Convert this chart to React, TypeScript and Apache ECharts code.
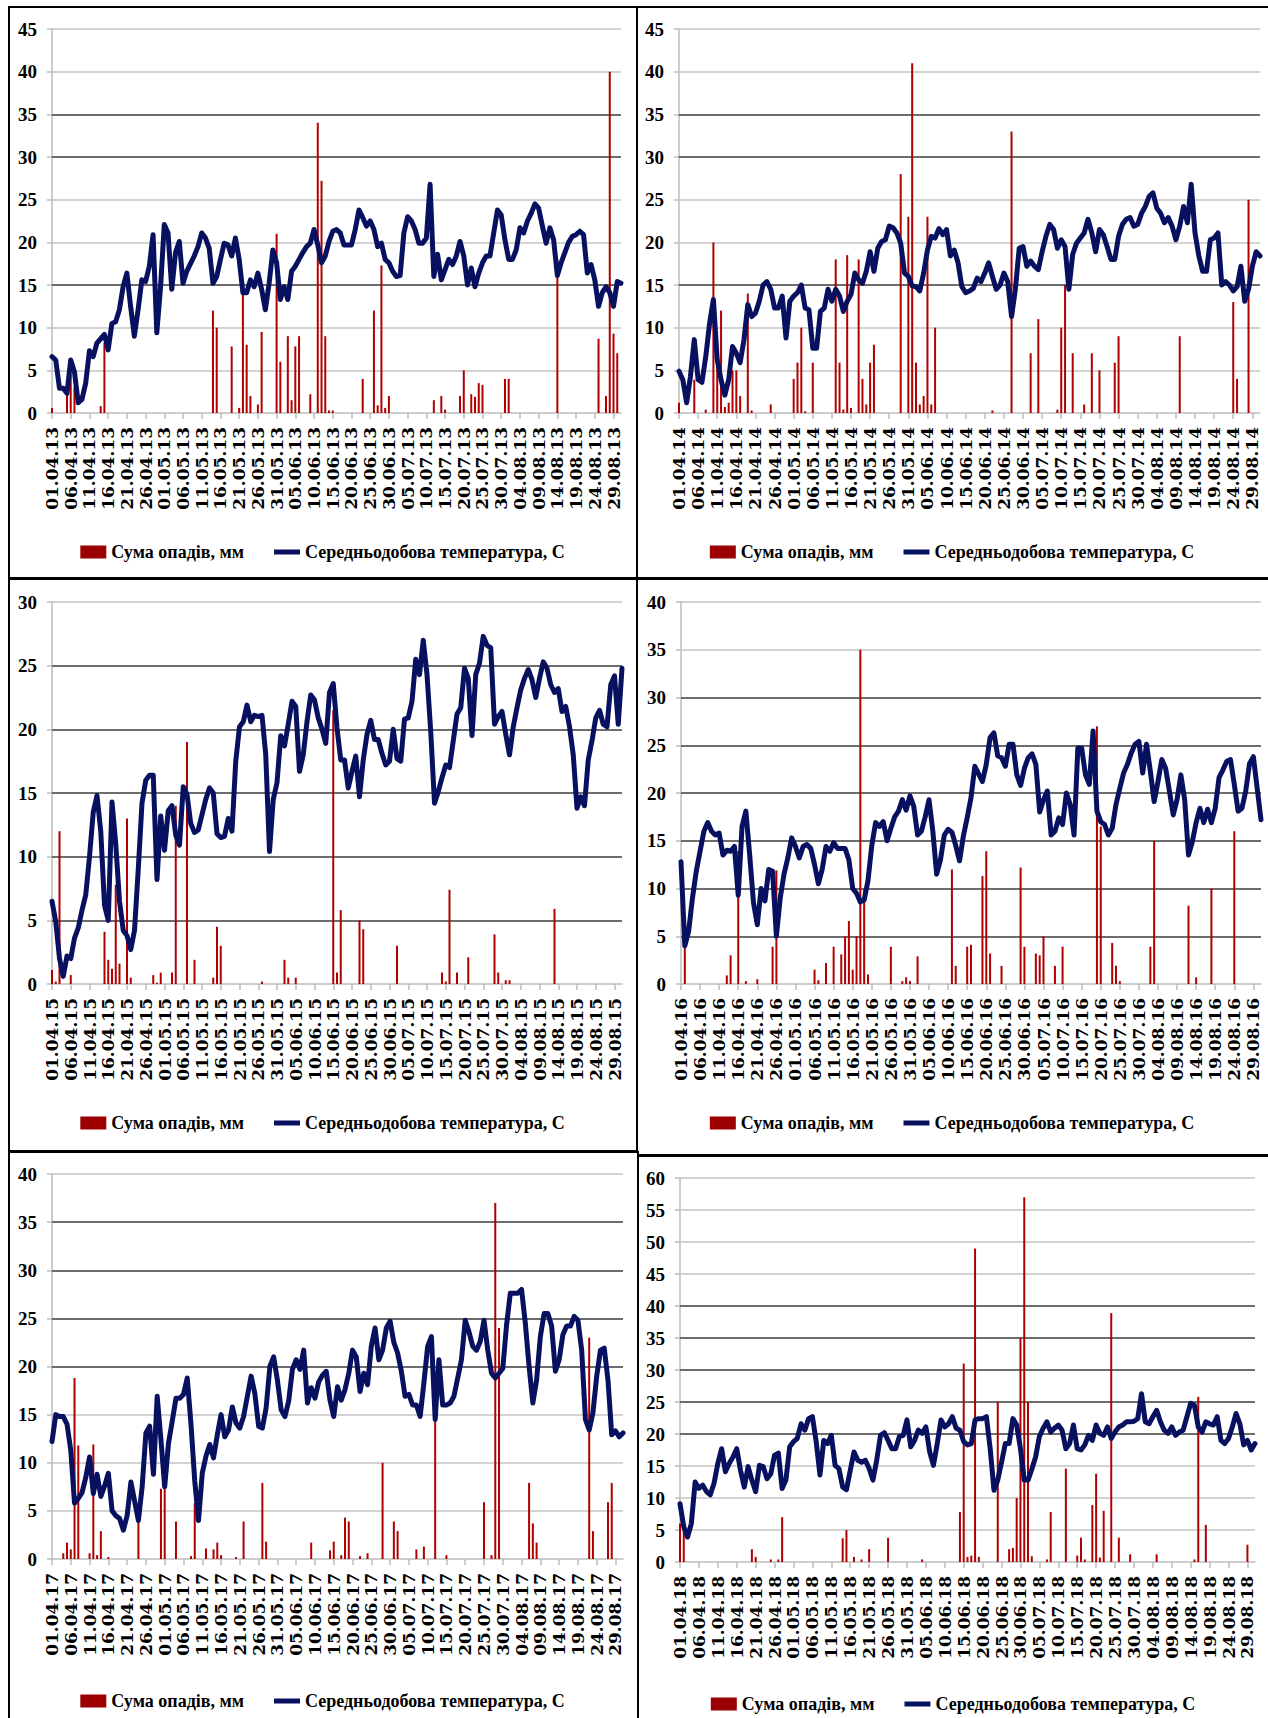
import React, { useEffect, useRef } from 'react';
import * as echarts from 'echarts';

// ---------- categories ----------
const MONTHS: [string, number][] = [['04', 30], ['05', 31], ['06', 30], ['07', 31], ['08', 31]];
function seasonDates(yy: string): string[] {
  const out: string[] = [];
  for (const [m, n] of MONTHS) for (let d = 1; d <= n; d++) out.push(`${String(d).padStart(2, '0')}.${m}.${yy}`);
  return out;
}

const RAIN_NAME = 'Сума опадів, мм';
const TEMP_NAME = 'Середньодобова температура, С';

// ---------- temperature (°C), 01.04 .. 31.08 ----------
const TEMP_2013 = [
  6.6, 6.2, 2.9, 2.9, 2.3, 6.2, 4.8, 1.2, 1.6, 3.5,
  7.3, 6.6, 8.2, 8.7, 9.2, 7.4, 10.5, 10.7, 12.1, 14.8,
  16.4, 12.5, 9.0, 12.1, 15.6, 15.4, 17.2, 20.9, 9.4, 14.8,
  22.1, 21.1, 14.5, 18.8, 20.1, 15.2, 16.6, 17.5, 18.4, 19.5,
  21.1, 20.5, 19.3, 15.2, 16.0, 18.0, 19.9, 19.7, 18.4, 20.5,
  18.0, 14.1, 14.1, 15.6, 14.8, 16.4, 14.5, 12.1, 15.2, 19.1,
  17.6, 13.3, 14.8, 13.3, 16.6, 17.2, 18.0, 18.8, 19.5, 19.9,
  21.5, 19.7, 17.6, 18.4, 20.1, 21.3, 21.5, 21.1, 19.7, 19.7,
  19.7, 21.5, 23.8, 22.9, 21.9, 22.5, 21.5, 19.5, 19.9, 18.0,
  17.6, 16.6, 16.0, 16.1, 21.1, 23.0, 22.5, 21.5, 19.9, 19.9,
  20.5, 26.8, 16.0, 18.6, 15.6, 16.8, 18.0, 17.4, 18.4, 20.1,
  18.4, 15.0, 17.0, 14.8, 16.4, 17.6, 18.4, 18.4, 21.1, 23.8,
  23.2, 20.3, 18.0, 18.0, 19.1, 21.7, 21.1, 22.5, 23.4, 24.5,
  24.0, 21.9, 19.9, 21.7, 20.3, 16.1, 17.6, 18.8, 20.0, 20.7,
  20.9, 21.3, 20.9, 16.4, 17.4, 15.6, 12.5, 14.1, 14.8, 14.1,
  12.5, 15.4, 15.2,
];
const TEMP_2014 = [
  4.9, 3.9, 1.2, 4.3, 8.6, 3.9, 3.6, 6.6, 10.5, 13.3,
  6.2, 3.9, 2.1, 3.9, 7.8, 7.0, 5.9, 8.6, 12.7, 11.3,
  11.7, 13.1, 15.0, 15.4, 14.5, 12.3, 12.3, 13.7, 8.8, 13.1,
  13.7, 14.1, 15.0, 12.3, 12.1, 7.6, 7.6, 11.9, 12.3, 14.5,
  13.1, 14.5, 13.7, 11.9, 13.1, 13.9, 16.4, 15.6, 15.2, 16.6,
  18.9, 16.6, 19.3, 20.1, 20.3, 21.9, 21.7, 21.1, 19.9, 16.4,
  16.0, 14.9, 14.8, 14.3, 16.4, 19.1, 20.7, 20.5, 21.6, 20.9,
  21.5, 18.4, 19.1, 17.6, 14.8, 14.1, 14.3, 14.6, 15.8, 15.4,
  16.4, 17.6, 16.0, 14.5, 15.0, 16.4, 15.4, 11.3, 14.5, 19.3,
  19.5, 17.2, 17.8, 17.2, 16.8, 18.9, 20.7, 22.1, 21.5, 19.3,
  20.3, 19.5, 14.5, 18.6, 19.9, 20.5, 21.1, 22.7, 21.1, 18.9,
  21.5, 20.9, 19.5, 18.0, 18.0, 20.7, 22.1, 22.7, 22.9, 21.9,
  22.1, 23.4, 24.2, 25.4, 25.8, 24.0, 23.4, 22.3, 22.9, 21.9,
  20.3, 21.9, 24.2, 22.3, 26.8, 21.1, 18.4, 16.6, 16.6, 20.3,
  20.5, 21.1, 15.0, 15.4, 15.0, 14.3, 14.8, 17.2, 13.1, 14.5,
  17.2, 18.9, 18.4,
];
const TEMP_2015 = [
  6.5, 4.9, 2.0, 0.6, 2.2, 2.0, 3.6, 4.4, 5.8, 7.0,
  10.0, 13.5, 14.8, 12.0, 6.2, 5.0, 14.3, 11.0, 6.5, 4.2,
  3.8, 2.7, 4.2, 9.0, 14.2, 16.0, 16.4, 16.4, 8.2, 13.2,
  10.5, 13.6, 14.0, 11.7, 10.9, 15.5, 14.9, 12.6, 11.9, 12.1,
  13.3, 14.5, 15.4, 15.0, 11.8, 11.5, 11.6, 13.0, 12.0, 17.5,
  20.2, 20.6, 21.9, 20.6, 21.1, 21.0, 21.1, 18.0, 10.4, 14.5,
  15.8, 19.5, 18.7, 20.4, 22.2, 21.8, 16.7, 18.0, 20.6, 22.7,
  22.3, 20.9, 20.0, 18.9, 22.9, 23.6, 20.1, 17.6, 17.6, 15.4,
  16.7, 17.9, 14.7, 17.6, 19.6, 20.7, 19.2, 19.2, 18.1, 17.2,
  17.5, 20.0, 17.7, 17.5, 20.8, 20.9, 22.2, 25.5, 24.3, 27.0,
  24.3, 19.8, 14.2, 15.1, 16.2, 17.2, 17.0, 19.1, 21.2, 21.7,
  24.8, 24.0, 19.5, 24.3, 25.2, 27.3, 26.6, 26.4, 20.4, 21.0,
  21.4, 19.6, 18.0, 20.2, 21.7, 23.1, 24.0, 24.7, 23.9, 22.5,
  24.0, 25.3, 24.8, 23.5, 22.9, 23.2, 21.4, 21.8, 20.2, 18.0,
  13.8, 14.7, 14.0, 17.6, 19.1, 20.9, 21.5, 20.4, 20.2, 23.5,
  24.2, 20.4, 24.8,
];
const TEMP_2016 = [
  12.8, 4.0, 5.5, 9.0, 11.8, 13.9, 16.0, 16.9, 16.0, 15.6,
  15.8, 13.5, 14.0, 13.9, 14.4, 9.3, 16.5, 18.1, 13.5, 8.5,
  6.2, 10.0, 8.7, 12.0, 11.8, 5.0, 9.0, 11.5, 13.2, 15.3,
  14.4, 13.2, 14.4, 14.6, 14.2, 12.5, 10.5, 12.0, 14.4, 13.9,
  14.8, 14.2, 14.2, 14.2, 13.0, 10.0, 9.5, 8.6, 8.8, 10.8,
  14.5, 16.9, 16.5, 17.0, 15.0, 16.3, 17.5, 18.1, 19.3, 18.2,
  19.7, 18.6, 15.6, 16.0, 17.5, 19.3, 16.0, 11.5, 13.0, 15.6,
  16.2, 15.9, 14.5, 12.9, 15.5, 17.4, 19.5, 22.8, 22.0, 21.2,
  23.0, 25.8, 26.3, 23.9, 23.7, 22.8, 25.1, 25.1, 21.9, 20.8,
  22.6, 23.7, 24.1, 23.0, 18.0, 19.3, 20.2, 15.6, 16.0, 17.4,
  16.7, 20.0, 18.8, 15.6, 24.7, 24.7, 21.9, 20.9, 26.5, 18.1,
  17.0, 16.7, 15.6, 16.3, 18.8, 20.5, 22.1, 23.0, 24.2, 25.1,
  25.4, 22.1, 25.1, 22.3, 19.1, 21.2, 23.5, 22.6, 20.2, 17.7,
  19.3, 21.9, 19.3, 13.5, 14.9, 16.9, 18.4, 16.9, 18.3, 16.9,
  18.4, 21.6, 22.4, 23.3, 23.5, 20.9, 18.1, 18.4, 20.2, 23.1,
  23.8, 20.5, 17.2,
];
const TEMP_2017 = [
  12.2, 15.0, 14.8, 14.8, 14.0, 11.3, 5.8, 6.3, 6.9, 8.5,
  10.6, 6.8, 8.8, 6.5, 7.6, 8.9, 5.0, 4.5, 4.2, 3.0,
  4.5, 8.0, 6.0, 4.0, 7.5, 13.1, 13.8, 8.8, 16.9, 12.4,
  7.5, 12.0, 14.3, 16.7, 16.7, 17.1, 18.8, 14.0, 8.1, 4.0,
  8.9, 10.7, 11.9, 10.5, 12.9, 15.0, 12.7, 13.4, 15.8, 14.1,
  13.6, 14.8, 16.9, 19.0, 17.2, 13.8, 13.6, 15.7, 20.0, 21.0,
  18.6, 15.5, 14.8, 16.4, 19.7, 20.7, 19.7, 21.7, 16.2, 17.8,
  16.7, 18.4, 19.1, 19.5, 16.5, 14.8, 17.9, 16.5, 17.6, 19.3,
  21.7, 21.0, 17.4, 19.3, 18.1, 22.1, 24.0, 20.7, 21.7, 24.0,
  24.7, 22.5, 21.4, 19.5, 16.9, 17.1, 16.0, 16.0, 14.8, 18.3,
  22.1, 23.1, 14.5, 20.7, 16.0, 16.0, 16.2, 16.9, 18.8, 20.7,
  24.8, 23.6, 22.1, 21.7, 22.6, 24.8, 21.7, 19.3, 18.8, 19.3,
  19.8, 24.3, 27.6, 27.6, 27.6, 28.0, 24.5, 20.0, 16.2, 18.6,
  23.1, 25.5, 25.5, 24.2, 19.5, 20.7, 23.3, 24.2, 24.2, 25.2,
  24.8, 21.7, 14.5, 13.4, 15.2, 19.0, 21.7, 21.9, 18.6, 12.9,
  13.3, 12.7, 13.1,
];
const TEMP_2018 = [
  9.1, 5.5, 3.9, 6.0, 12.5, 11.5, 12.0, 11.0, 10.5, 12.3,
  15.4, 17.7, 14.1, 15.4, 16.4, 17.7, 14.3, 11.7, 14.9, 12.8,
  11.0, 15.1, 14.9, 13.0, 13.8, 16.7, 17.0, 11.5, 12.8, 18.0,
  18.8, 19.3, 21.6, 20.6, 22.4, 22.7, 18.8, 13.6, 19.0, 18.5,
  19.8, 15.1, 14.6, 11.7, 11.3, 14.3, 17.2, 15.9, 15.6, 15.9,
  14.6, 12.8, 15.9, 19.8, 20.2, 19.0, 17.7, 17.7, 19.6, 19.8,
  22.2, 18.0, 19.0, 20.6, 20.1, 21.1, 17.2, 15.1, 18.5, 22.2,
  21.1, 21.6, 22.7, 20.9, 20.6, 18.8, 18.3, 18.5, 22.2, 22.4,
  22.4, 22.7, 17.7, 11.2, 12.8, 15.6, 18.5, 18.5, 22.4, 21.4,
  17.7, 12.8, 12.8, 14.5, 16.4, 19.6, 20.9, 21.9, 20.3, 20.9,
  21.4, 20.6, 17.7, 18.5, 21.4, 17.7, 17.5, 18.3, 19.8, 19.0,
  21.4, 20.1, 19.8, 21.1, 19.3, 20.3, 21.1, 21.4, 21.9, 21.9,
  22.0, 22.4, 26.3, 21.9, 21.6, 22.7, 23.7, 21.9, 20.6, 20.1,
  21.1, 19.8, 20.3, 20.6, 22.7, 24.8, 24.5, 21.1, 20.3, 21.9,
  21.6, 21.4, 22.7, 19.0, 18.5, 19.3, 21.1, 23.2, 21.6, 18.3,
  19.0, 17.5, 18.5,
];

// ---------- precipitation (mm): [day index from 01.04, mm]; days not listed had no bar ----------
const RAIN_2013: [number, number][] = [
  [0, 0.6], [4, 3.5], [5, 4.5], [6, 3.0], [13, 0.8], [14, 8.2], [43, 12.0], [44, 10.0], [48, 7.8], [50, 0.6],
  [51, 14.0], [52, 8.0], [53, 2.0], [55, 1.0], [56, 9.5], [60, 21.0], [61, 6.0], [63, 9.0], [64, 1.5], [65, 7.8],
  [66, 9.0], [69, 2.2], [71, 34.0], [72, 27.2], [73, 9.0], [74, 0.3], [75, 0.3], [83, 4.0], [86, 12.0], [87, 0.9],
  [88, 17.3], [89, 0.6], [90, 2.0], [102, 1.5], [104, 2.0], [105, 0.4], [109, 2.0], [110, 5.0], [112, 2.2], [113, 1.9],
  [114, 3.5], [115, 3.3], [121, 4.0], [122, 4.0], [135, 18.0], [146, 8.7], [148, 2.0], [149, 40.0], [150, 9.3], [151, 7.0],
];
const RAIN_2014: [number, number][] = [
  [0, 1.2], [4, 3.9], [7, 0.4], [9, 20.0], [10, 5.7], [11, 12.0], [12, 0.7], [13, 1.2], [14, 5.0], [15, 5.0],
  [16, 2.0], [18, 14.0], [19, 0.3], [24, 1.0], [30, 4.0], [31, 5.9], [32, 10.0], [33, 0.2], [35, 5.9], [41, 18.0],
  [42, 5.9], [43, 0.4], [44, 18.5], [45, 0.6], [47, 18.0], [48, 4.0], [49, 1.0], [50, 5.9], [51, 8.0], [58, 28.0],
  [60, 23.0], [61, 41.0], [62, 5.9], [63, 1.0], [64, 2.0], [65, 23.0], [66, 1.0], [67, 10.0], [82, 0.3], [87, 33.0],
  [92, 7.0], [94, 11.0], [99, 0.4], [100, 10.0], [101, 15.0], [103, 7.0], [106, 1.0], [108, 7.0], [110, 5.0], [114, 5.9],
  [115, 9.0], [131, 9.0], [145, 13.0], [146, 4.0], [149, 25.0],
];
const RAIN_2015: [number, number][] = [
  [0, 1.1], [1, 0.2], [2, 12.0], [5, 0.7], [14, 4.1], [15, 1.9], [16, 1.2], [17, 7.8], [18, 1.6], [20, 13.0],
  [21, 0.5], [27, 0.7], [28, 0.1], [29, 0.9], [32, 0.9], [33, 14.0], [36, 19.0], [38, 1.9], [43, 0.5], [44, 4.5],
  [45, 3.0], [56, 0.2], [62, 1.9], [63, 0.5], [65, 0.5], [75, 21.5], [76, 0.9], [77, 5.8], [82, 5.0], [83, 4.3],
  [92, 3.0], [104, 0.9], [105, 0.2], [106, 7.4], [108, 0.9], [111, 2.1], [118, 3.9], [119, 0.9], [121, 0.3], [122, 0.3],
  [134, 5.9],
];
const RAIN_2016: [number, number][] = [
  [1, 3.8], [12, 0.9], [13, 3.0], [15, 13.9], [17, 0.3], [20, 0.5], [24, 3.9], [25, 11.9], [35, 1.5], [36, 0.4],
  [38, 2.2], [40, 3.9], [42, 3.1], [43, 5.0], [44, 6.6], [45, 1.5], [46, 5.0], [47, 35.0], [48, 9.9], [49, 1.0],
  [55, 3.9], [58, 0.3], [59, 0.7], [60, 0.3], [62, 2.9], [71, 12.0], [72, 1.9], [75, 3.9], [76, 4.1], [79, 11.3],
  [80, 13.9], [81, 3.2], [84, 1.9], [89, 12.2], [90, 3.9], [93, 3.2], [94, 3.0], [95, 5.0], [98, 1.9], [100, 3.9],
  [109, 27.0], [110, 16.5], [113, 4.3], [114, 1.9], [115, 0.3], [123, 3.9], [124, 15.0], [133, 8.2], [135, 0.7], [139, 10.0],
  [145, 16.0],
];
const RAIN_2017: [number, number][] = [
  [3, 0.6], [4, 1.7], [5, 1.0], [6, 18.8], [7, 11.8], [10, 0.6], [11, 11.9], [12, 0.4], [13, 2.9], [15, 0.2],
  [23, 3.9], [29, 7.3], [30, 7.5], [33, 3.9], [37, 0.3], [38, 5.8], [41, 1.1], [43, 1.0], [44, 1.7], [45, 0.4],
  [49, 0.2], [51, 3.9], [56, 7.9], [57, 1.8], [69, 1.7], [74, 0.9], [75, 1.8], [77, 0.4], [78, 4.3], [79, 3.9],
  [82, 0.3], [84, 0.6], [88, 10.0], [91, 3.9], [92, 2.9], [97, 1.0], [99, 1.3], [102, 18.0], [105, 0.4], [115, 5.9],
  [117, 0.4], [118, 37.0], [119, 24.0], [127, 7.9], [128, 3.7], [129, 1.7], [143, 23.0], [144, 2.9], [148, 5.9], [149, 7.9],
];
const RAIN_2018: [number, number][] = [
  [0, 6.0], [1, 5.0], [19, 2.0], [20, 0.8], [24, 0.4], [26, 0.4], [27, 7.0], [43, 3.7], [44, 5.0], [46, 0.8],
  [48, 0.4], [50, 2.0], [55, 3.8], [64, 0.4], [74, 7.8], [75, 31.0], [76, 0.8], [77, 1.0], [78, 49.0], [79, 0.8],
  [84, 25.0], [87, 2.0], [88, 2.2], [89, 10.0], [90, 35.0], [91, 57.0], [92, 25.0], [93, 0.9], [97, 0.4], [98, 7.8],
  [102, 14.6], [105, 1.0], [106, 3.8], [107, 0.4], [109, 8.9], [110, 13.8], [111, 0.7], [112, 8.0], [114, 38.9], [116, 3.8],
  [119, 1.2], [126, 1.2], [136, 0.4], [137, 25.8], [139, 5.8], [150, 2.7],
];

// ---------- y-axis ranges and which gridlines print dark ----------
const Y_MAX = [45, 45, 30, 40, 40, 60];
const DARK_LINES = [[15, 30, 35], [15, 30, 35], [5, 10, 15, 20, 25], [5, 10, 15, 20, 25, 30], [20, 25, 30, 35], [20, 25, 30, 35, 40]];
const YEARS = ['13', '14', '15', '16', '17', '18'];
const TEMPS = [TEMP_2013, TEMP_2014, TEMP_2015, TEMP_2016, TEMP_2017, TEMP_2018];
const RAINS = [RAIN_2013, RAIN_2014, RAIN_2015, RAIN_2016, RAIN_2017, RAIN_2018];

// ---------- layout (page px) ----------
const LAYOUT = [
  { box: { left: 10, top: 9, width: 625, height: 568 }, grid: { left: 42, top: 20, width: 569, height: 384 }, legendTop: 529 },
  { box: { left: 638, top: 9, width: 628, height: 568 }, grid: { left: 41, top: 20, width: 581, height: 384 }, legendTop: 529 },
  { box: { left: 10, top: 581, width: 625, height: 569 }, grid: { left: 42, top: 21, width: 570, height: 382 }, legendTop: 528 },
  { box: { left: 638, top: 581, width: 628, height: 569 }, grid: { left: 43, top: 21, width: 580, height: 382 }, legendTop: 528 },
  { box: { left: 10, top: 1154, width: 625, height: 564 }, grid: { left: 42, top: 20, width: 571, height: 385 }, legendTop: 533 },
  { box: { left: 640, top: 1156, width: 626, height: 562 }, grid: { left: 40, top: 22, width: 575, height: 384 }, legendTop: 534 },
];

const BAR_COLOR = '#b00000';
const LEGEND_RED = '#9c0000';
const LINE_COLOR = '#07115f';
const AXIS_GRAY = '#bdbdbd';
const LINE_ICON = 'path://M0,0L26,0L26,5L0,5Z';

function Panel({ idx }: { idx: number }) {
  const ref = useRef<HTMLDivElement>(null);
  useEffect(() => {
    if (!ref.current) return;
    const chart = echarts.init(ref.current, null, { renderer: 'svg' });
    const dates = seasonDates(YEARS[idx]);
    const rainFull: (number | null)[] = dates.map(() => null);
    for (const [i, v] of RAINS[idx]) rainFull[i] = v;
    const yMax = Y_MAX[idx];
    const ticks: number[] = [];
    for (let v = 5; v <= yMax; v += 5) ticks.push(v);
    const dark = DARK_LINES[idx];
    const L = LAYOUT[idx];
    chart.setOption({
      animation: false,
      grid: { ...L.grid },
      legend: {
        data: [
          { name: RAIN_NAME, icon: 'rect', itemStyle: { color: LEGEND_RED } },
          { name: TEMP_NAME, icon: LINE_ICON, itemStyle: { color: LINE_COLOR, borderWidth: 0 } },
        ],
        top: L.legendTop,
        left: 'center',
        itemWidth: 26,
        itemHeight: 13,
        itemGap: 30,
        symbolKeepAspect: true,
        selectedMode: false,
        textStyle: { fontFamily: 'Liberation Serif', fontWeight: 'bold', fontSize: 18, color: '#000' },
      },
      xAxis: {
        type: 'category',
        data: dates,
        boundaryGap: false,
        axisLine: { show: true, lineStyle: { color: AXIS_GRAY, width: 1.5 } },
        axisTick: { show: true, interval: 4, length: 6, lineStyle: { color: AXIS_GRAY, width: 1.5 } },
        axisLabel: {
          interval: 4,
          rotate: 90,
          margin: 14,
          fontFamily: 'DejaVu Serif',
          fontWeight: 'bold',
          fontSize: 17,
          color: '#000',
        },
        splitLine: { show: false },
      },
      yAxis: {
        type: 'value',
        min: 0,
        max: yMax,
        interval: 5,
        axisLine: { show: true, lineStyle: { color: AXIS_GRAY, width: 1.5 } },
        axisTick: { show: true, length: 5, lineStyle: { color: AXIS_GRAY, width: 1.5 } },
        axisLabel: { margin: 15, fontFamily: 'Liberation Serif', fontWeight: 'bold', fontSize: 19, color: '#000' },
        splitLine: { show: false },
      },
      series: [
        {
          name: RAIN_NAME,
          type: 'bar',
          data: rainFull,
          barWidth: 2,
          itemStyle: { color: BAR_COLOR },
          z: 2,
          markLine: {
            silent: true,
            symbol: 'none',
            z: 1,
            label: { show: false },
            emphasis: { disabled: true },
            data: ticks.map((v) => ({
              yAxis: v,
              lineStyle: { color: dark.includes(v) ? '#3c3c3c' : '#c4c4c4', width: 1.5, type: 'solid' },
            })),
          },
        },
        {
          name: TEMP_NAME,
          type: 'line',
          data: TEMPS[idx],
          symbol: 'none',
          showSymbol: false,
          z: 3,
          itemStyle: { color: LINE_COLOR },
          lineStyle: { color: LINE_COLOR, width: 5, join: 'round', cap: 'round' },
        },
      ],
    });
    return () => chart.dispose();
  }, [idx]);
  return <div ref={ref} style={{ position: 'absolute', ...LAYOUT[idx].box }} />;
}

const rule = (s: React.CSSProperties) => <div style={{ position: 'absolute', background: '#000', ...s }} />;

export default function App() {
  return (
    <div style={{ position: 'absolute', left: 0, top: 0, width: 1268, height: 1718, background: '#fff', overflow: 'hidden' }}>
      {[0, 1, 2, 3, 4, 5].map((i) => (
        <Panel key={i} idx={i} />
      ))}
      {rule({ left: 8, top: 6, width: 1260, height: 2 })}
      {rule({ left: 8, top: 6, width: 2, height: 1712 })}
      {rule({ left: 636, top: 6, width: 2, height: 1146 })}
      {rule({ left: 637, top: 1151, width: 2, height: 567 })}
      {rule({ left: 8, top: 577, width: 1260, height: 3 })}
      {rule({ left: 8, top: 1150, width: 630, height: 3 })}
      {rule({ left: 637, top: 1154, width: 631, height: 3 })}
    </div>
  );
}
